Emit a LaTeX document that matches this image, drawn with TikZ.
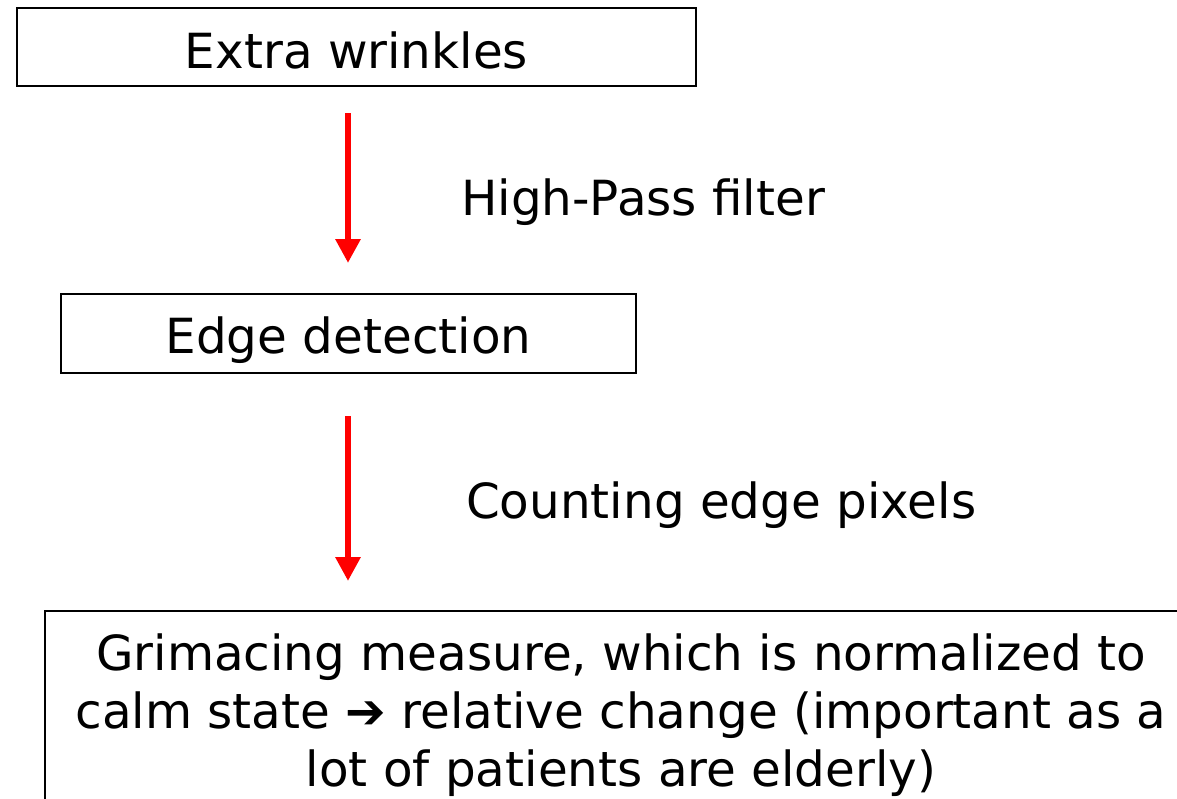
\documentclass[tikz,border=0pt]{standalone}
\usepackage{fontspec}
\setmainfont{DejaVu Sans}
\usetikzlibrary{arrows.meta}
\begin{document}
\begin{tikzpicture}[x=1pt,y=-1pt,
  bigtext/.style={font=\fontsize{48.4}{58}\selectfont},
  stage/.style={bigtext,draw=black,line width=2pt,inner sep=0pt,text depth=0pt},
  label/.style={bigtext,inner sep=0pt,anchor=base west},
  flow/.style={draw=red,line width=6pt,
    -{Triangle[width=24pt,length=24pt]}}]
  \useasboundingbox (0,0) rectangle (1177,798);
  \clip (0,0) rectangle (1177,798);
  % process stages
  \node[stage,minimum width=679pt,minimum height=78pt,text height=42pt]
    (wrinkles) at (356.5,47) {Extra wrinkles};
  \node[stage,minimum width=575pt,minimum height=79pt,text height=39pt]
    (edges) at (348.5,333.5) {Edge detection};
  \draw[line width=2pt] (45,611) rectangle (1200,830);
  % base anchor of a multi-line node sits on its last line
  \node[bigtext,inner sep=0pt,align=center,anchor=base] (measure) at (621,786)
    {Grimacing measure, which is normalized to\\
     calm state ➔ relative change (important as a\\
     lot of patients are elderly)};
  % connectors between the stages
  \coordinate (a1s) at (348,113);
  \coordinate (a1e) at (348,263);
  \coordinate (a2s) at (348,416);
  \coordinate (a2e) at (348,581);
  \draw[flow] (a1s) -- (a1e);
  \draw[flow] (a2s) -- (a2e);
  % step labels
  \node[label] (hp) at (461,215) {High-Pass filter};
  \node[label] (count) at (466,518) {Counting edge pixels};
\end{tikzpicture}
\end{document}
